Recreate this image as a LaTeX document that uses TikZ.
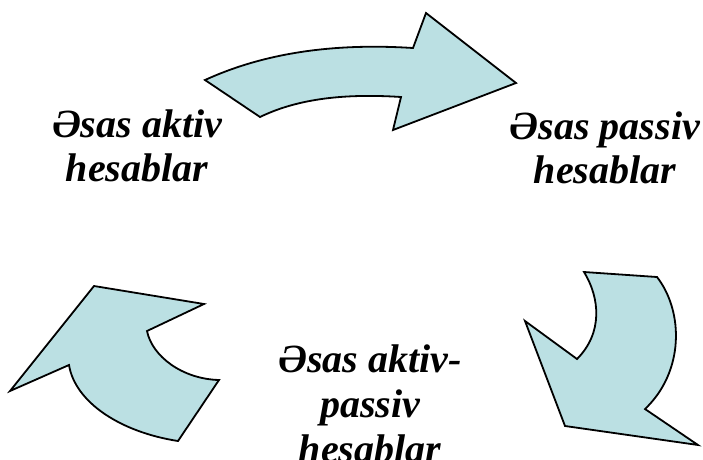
\documentclass[tikz,border=0pt]{standalone}
\usepackage{fontspec}
\setmainfont{Liberation Serif}
\begin{document}
\begin{tikzpicture}[x=1pt,y=-1pt,
  arrowshape/.style={fill=arrowfill,draw=black,line width=1.8pt,line join=miter},
  lbl/.style={align=center,font=\fontsize{40}{43.5}\selectfont\bfseries\itshape,inner sep=0pt,anchor=base}]
\definecolor{arrowfill}{HTML}{BBE0E3}
\useasboundingbox (0,0) rectangle (703,459);
% top arrow
\path[arrowshape] (205,80) .. controls (275,48) and (350,44) .. (413,48)
  -- (426,13) -- (516,83) -- (393,130) -- (401,97)
  .. controls (340,93) and (295,100) .. (260,117) -- cycle;
% bottom-right arrow
\path[arrowshape] (584,272) -- (657,277)
  .. controls (684,312) and (684,372) .. (645,409)
  -- (698,445) -- (565,426) -- (525,321) -- (577,359)
  .. controls (603,333) and (600,298) .. (584,272) -- cycle;
% bottom-left arrow
\path[arrowshape] (94,286) -- (204,304) -- (147,331)
  .. controls (152,356) and (182,379) .. (219,380)
  -- (178,441)
  .. controls (120,432) and (75,402) .. (69,365)
  -- (10,391) -- cycle;
\node[lbl] (left) at (137,181) {Əsas aktiv\\hesablar};
\node[lbl] (right) at (605,183) {Əsas passiv\\hesablar};
\node[lbl,font=\fontsize{40}{45}\selectfont\bfseries\itshape] (bottom) at (370,462) {Əsas aktiv-\\passiv\\hesablar};
\end{tikzpicture}
\end{document}
